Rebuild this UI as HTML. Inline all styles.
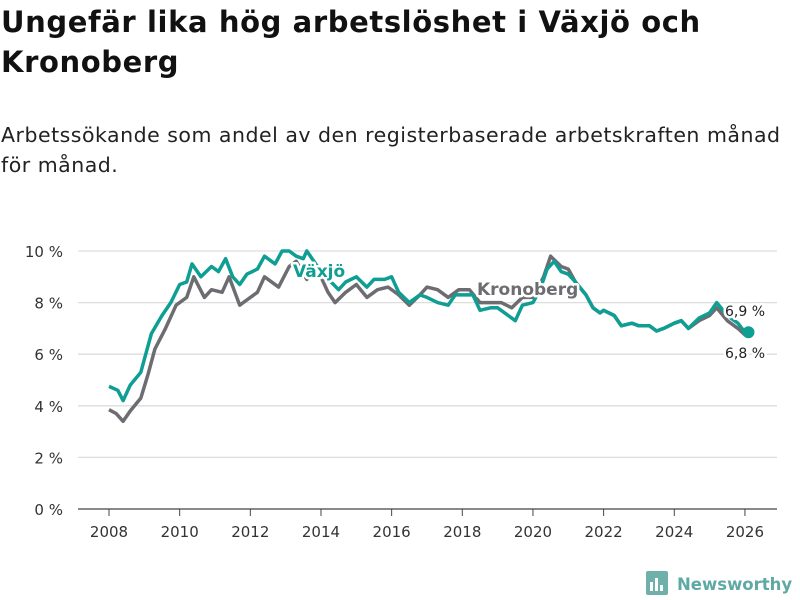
<!DOCTYPE html>
<html><head><meta charset="utf-8"><style>
body{margin:0;width:800px;height:600px;background:#fff;font-family:"DejaVu Sans","Liberation Sans",sans-serif;overflow:hidden}
h1{position:absolute;left:1px;top:2px;margin:0;font-size:29px;letter-spacing:0.6px;line-height:40px;font-weight:bold;color:#111;white-space:nowrap}
p{position:absolute;left:1px;top:120px;margin:0;font-size:20.5px;letter-spacing:0.5px;line-height:30px;color:#222;white-space:nowrap}
svg{position:absolute;left:0;top:0}
</style></head><body>
<h1>Ungefär lika hög arbetslöshet i Växjö och<br>Kronoberg</h1>
<p>Arbetssökande som andel av den registerbaserade arbetskraften månad<br>för månad.</p>
<svg id="c" width="800" height="600" font-family="DejaVu Sans, Liberation Sans, sans-serif"></svg>
<script>
const yTicks=[0,2,4,6,8,10];
const xTicks=[2008,2010,2012,2014,2016,2018,2020,2022,2024,2026];
const vaxjoX=[2008.0,2008.25,2008.4,2008.6,2008.9,2009.0,2009.2,2009.5,2009.75,2010.0,2010.2,2010.35,2010.6,2010.9,2011.1,2011.3,2011.5,2011.7,2011.9,2012.2,2012.4,2012.7,2012.9,2013.1,2013.3,2013.5,2013.6,2014.0,2014.5,2014.7,2015.0,2015.3,2015.5,2015.8,2016.0,2016.2,2016.5,2016.8,2017.0,2017.3,2017.6,2017.8,2018.0,2018.3,2018.5,2018.8,2019.0,2019.3,2019.5,2019.7,2020.0,2020.2,2020.4,2020.6,2020.8,2021.0,2021.2,2021.5,2021.7,2021.9,2022.0,2022.3,2022.5,2022.8,2023.0,2023.3,2023.5,2023.7,2024.0,2024.2,2024.4,2024.7,2025.0,2025.2,2025.5,2025.8,2026.0,2026.1];
const vaxjoV=[4.75,4.6,4.2,4.8,5.3,5.8,6.8,7.5,8.0,8.7,8.8,9.5,9.0,9.4,9.2,9.7,9.0,8.7,9.1,9.3,9.8,9.5,10.0,10.0,9.8,9.7,10.0,9.2,8.5,8.8,9.0,8.6,8.9,8.9,9.0,8.4,8.0,8.3,8.2,8.0,7.9,8.3,8.3,8.3,7.7,7.8,7.8,7.5,7.3,7.9,8.0,8.5,9.3,9.6,9.2,9.1,8.8,8.3,7.8,7.6,7.7,7.5,7.1,7.2,7.1,7.1,6.9,7.0,7.2,7.3,7.0,7.4,7.6,8.0,7.5,7.2,6.85,6.85];
const kronX=[2008.0,2008.2,2008.4,2008.6,2008.9,2009.1,2009.3,2009.6,2009.9,2010.2,2010.4,2010.7,2010.9,2011.2,2011.4,2011.7,2011.9,2012.2,2012.4,2012.8,2013.1,2013.3,2013.6,2013.9,2014.2,2014.4,2014.7,2015.0,2015.3,2015.6,2015.9,2016.2,2016.5,2016.8,2017.0,2017.3,2017.6,2017.9,2018.2,2018.5,2018.8,2019.1,2019.4,2019.7,2020.0,2020.3,2020.5,2020.8,2021.0,2021.2,2021.5,2021.7,2021.9,2022.0,2022.3,2022.5,2022.8,2023.0,2023.3,2023.5,2023.7,2024.0,2024.2,2024.4,2024.7,2025.0,2025.2,2025.5,2025.8,2026.0,2026.1];
const kronV=[3.85,3.7,3.4,3.8,4.3,5.2,6.2,7.0,7.9,8.2,9.0,8.2,8.5,8.4,9.0,7.9,8.1,8.4,9.0,8.6,9.4,9.6,8.9,9.3,8.4,8.0,8.4,8.7,8.2,8.5,8.6,8.3,7.9,8.3,8.6,8.5,8.2,8.5,8.5,8.0,8.0,8.0,7.8,8.2,8.2,9.0,9.8,9.4,9.3,8.8,8.3,7.8,7.6,7.7,7.5,7.1,7.2,7.1,7.1,6.9,7.0,7.2,7.3,7.0,7.3,7.5,7.8,7.3,7.0,6.75,6.75];
const svg=document.getElementById('c'),NS='http://www.w3.org/2000/svg';
const xS=v=>109+(v-2008)*35.33, yS=v=>509-v*25.8;
function mk(t,a,p){const e=document.createElementNS(NS,t);for(const k in a)e.setAttribute(k,a[k]);(p||svg).appendChild(e);return e;}
yTicks.forEach(t=>{
  const l=mk('line',{x1:78,x2:777,y1:yS(t),y2:yS(t),stroke:t==0?'#444':'#ddd','stroke-width':t==0?1.2:1.3});
  
  
  const tx=mk('text',{x:63,y:yS(t)+6,'text-anchor':'end','font-size':15,fill:'#333'});tx.textContent=t+' %';
  
  
});
xTicks.forEach(t=>{
  const l=mk('line',{x1:xS(t),x2:xS(t),y1:509,y2:516,stroke:'#444'});
  
  
  const tx=mk('text',{x:xS(t),y:537,'text-anchor':'middle','font-size':15,fill:'#333'});tx.textContent=t;
  
  
});
function line(X,V,c,n){const d=X.map((x,i)=>(i?'L':'M')+xS(x).toFixed(1)+','+yS(V[i]).toFixed(1)).join('');
  const p=mk('path',{d:d,fill:'none',stroke:c,'stroke-width':3.5,'stroke-linejoin':'round'});
  
  }
line(kronX,kronV,'#6d6c70','kronoberg-line');
line(vaxjoX,vaxjoV,'#0f9e93','vaxjo-line');
const dot=mk('circle',{cx:xS(vaxjoX[vaxjoX.length-1]),cy:yS(vaxjoV[vaxjoV.length-1]),r:6,fill:'#0f9e93'});


function lab(x,y,s,c,n,fs,w,halo){const t=mk('text',{x:x,y:y,fill:c,'font-size':fs,'font-weight':w,stroke:halo?'#fff':'none','stroke-width':halo?5:0,'paint-order':'stroke','stroke-linejoin':'round'});t.textContent=s;
  
  }
lab(293,277,'Växjö','#0f9e93','vaxjo-label',17,'bold',true);
lab(477,295,'Kronoberg','#6d6c70','kronoberg-label',17,'bold',true);
lab(725,316,'6,9 %','#222','kronoberg-end-value',14,'normal',true);
lab(725,358,'6,8 %','#222','vaxjo-end-value',14,'normal',true);
const g=mk('g',{});


mk('rect',{x:646,y:571,width:22,height:24,rx:2,fill:'#6fb0aa'},g);
mk('rect',{x:650,y:582,width:3,height:9,fill:'#fff'},g);
mk('rect',{x:655,y:578,width:3,height:13,fill:'#fff'},g);
mk('rect',{x:660,y:585,width:3,height:6,fill:'#fff'},g);
const lt=mk('text',{x:677,y:590,'font-size':16.5,'font-weight':'bold',fill:'#5ea9a3'},g);lt.textContent='Newsworthy';
</script>
</body></html>
